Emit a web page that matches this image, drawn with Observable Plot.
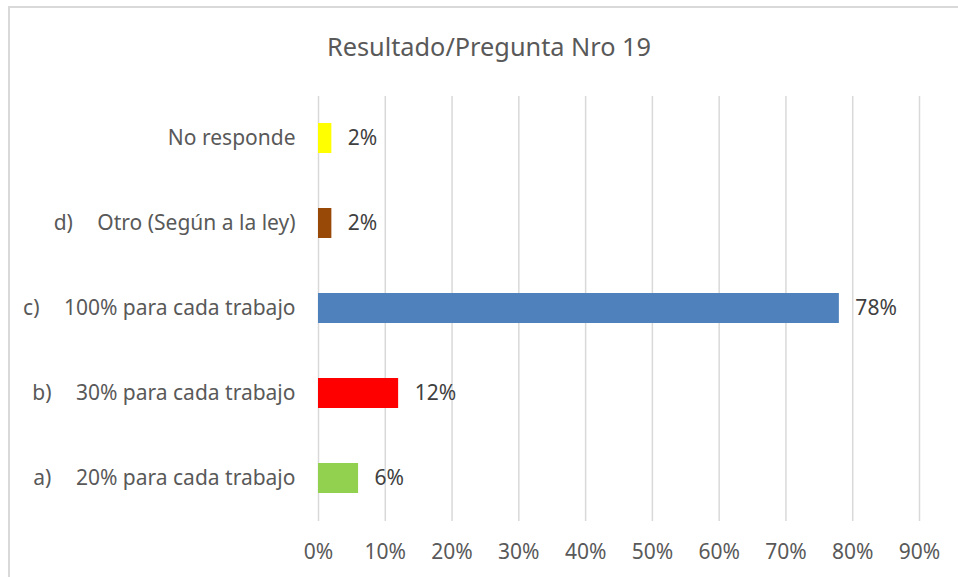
<!DOCTYPE html>
<html>
<head>
<meta charset="utf-8">
<script src="https://cdn.jsdelivr.net/npm/d3@7"></script>
<script src="https://cdn.jsdelivr.net/npm/@observablehq/plot@0.6"></script>
<style>
  html, body { margin: 0; padding: 0; background: #fff; }
  #wrap { position: relative; width: 958px; height: 577px; overflow: hidden; font-family: "Noto Sans", sans-serif; }
  #border { position: absolute; left: 8px; top: 6px; width: 960px; height: 600px; border: 2px solid #d9d9d9; box-sizing: border-box; }
  #title { position: absolute; left: 0; width: 978px; top: 26px; text-align: center; font-size: 25.3px; color: #595959; line-height: 40px; }
  #chart { position: absolute; left: 0; top: 0; }
</style>
</head>
<body>
<div id="wrap">
  <div id="border"></div>
  <div id="title">Resultado/Pregunta Nro 19</div>
  <div id="chart"></div>
</div>
<script>
const categories = [
  "No responde",
  "d)\u2003\u2009Otro (Según a la ley)",
  "c)\u2003\u2009100% para cada trabajo",
  "b)\u2003\u200930% para cada trabajo",
  "a)\u2003\u200920% para cada trabajo"
];
const values = [2, 2, 78, 12, 6];
const colors = ["#FFFF00", "#984807", "#4F81BD", "#FF0000", "#92D050"];
const xTicks = [0, 10, 20, 30, 40, 50, 60, 70, 80, 90];

const data = categories.map((c, i) => ({category: c, value: values[i], color: colors[i]}));

const chart = Plot.plot({
  width: 958,
  height: 577,
  marginLeft: 318,
  marginRight: 39,
  marginTop: 96,
  marginBottom: 56,
  style: {fontFamily: "Noto Sans, sans-serif", fontSize: "21px", color: "#595959", background: "transparent", overflow: "visible"},
  x: {domain: [0, 90], ticks: xTicks, tickFormat: d => d + "%", label: null},
  y: {domain: categories, paddingInner: 0.647, paddingOuter: 0.3235, label: null},
  marks: [
    Plot.gridX(xTicks, {stroke: "#d9d9d9", strokeOpacity: 1, strokeWidth: 1.5}),
    Plot.barX(data, {x: "value", y: "category", fill: "color"}),
    Plot.text(data, {x: "value", y: "category", text: d => d.value + "%", textAnchor: "start", dx: 16, fill: "#404040", fontSize: 21}),
    Plot.axisX({ticks: xTicks, tickSize: 0, tickPadding: 23, tickFormat: d => d + "%", fill: "#595959", fontSize: 21, label: null}),
    Plot.axisY({tickSize: 0, tickPadding: 23, fill: "#595959", fontSize: 21, label: null})
  ]
});
document.getElementById("chart").appendChild(chart);
</script>
</body>
</html>
